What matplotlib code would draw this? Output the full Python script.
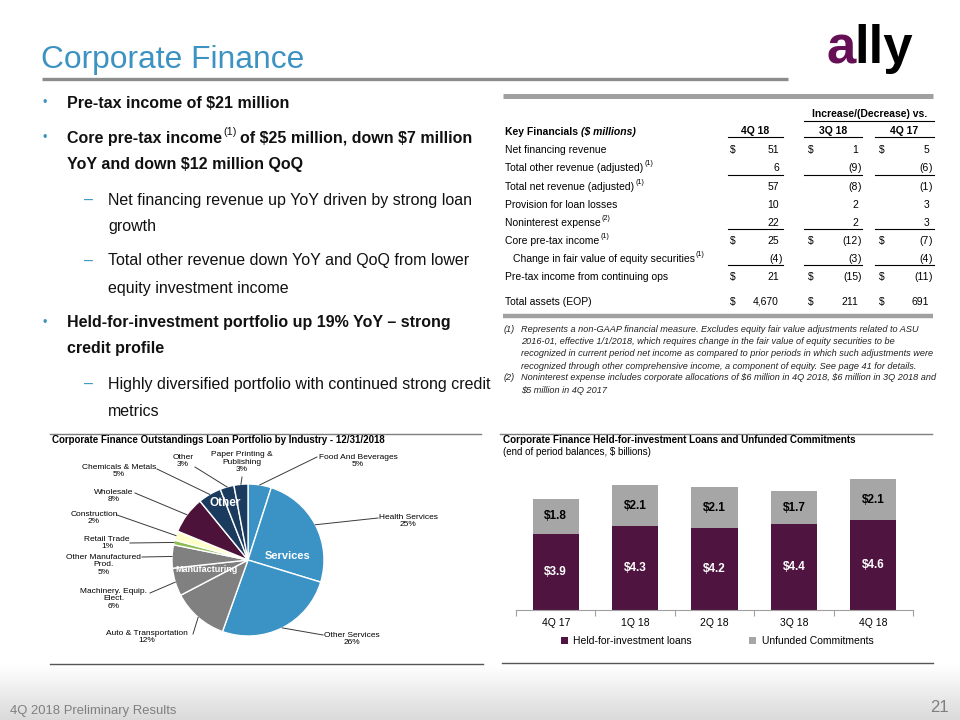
import numpy as np
import matplotlib
matplotlib.use("Agg")
import matplotlib.pyplot as plt

plt.rcParams['font.family'] = ['Liberation Sans', 'DejaVu Sans']
plt.rcParams['text.parse_math'] = False

# ---------------- data ----------------
title = "Corporate Finance"

bullets = [
    ("b", [("Pre-tax income of $21 million", "t")]),
    ("b", [("Core pre-tax income", "t"), ("(1)", "s"), ("of $25 million, down $7 million", "t")]),
    ("c", [("YoY and down $12 million QoQ", "t")]),
    ("d", [("Net financing revenue up YoY driven by strong loan", "t")]),
    ("e", [("growth", "t")]),
    ("d", [("Total other revenue down YoY and QoQ from lower", "t")]),
    ("e", [("equity investment income", "t")]),
    ("b", [("Held-for-investment portfolio up 19% YoY \u2013 strong", "t")]),
    ("c", [("credit profile", "t")]),
    ("d", [("Highly diversified portfolio with continued strong credit", "t")]),
    ("e", [("metrics", "t")]),
]

row_labels = ["Net financing revenue", "Total other revenue (adjusted)", "Total net revenue (adjusted)",
              "Provision for loan losses", "Noninterest expense", "Core pre-tax income",
              "Change in fair value of equity securities", "Pre-tax income from continuing ops",
              "Total assets (EOP)"]
row_sups = ["", "(1)", "(1)", "", "(2)", "(1)", "(1)", "", ""]
q4_18 = [51, 6, 57, 10, 22, 25, -4, 21, 4670]
vs_3q18 = [1, -9, -8, 2, 2, -12, -3, -15, 211]
vs_4q17 = [5, -6, -1, 3, 3, -7, -4, -11, 691]
dollar_rows = [0, 5, 7, 8]
col_headers = ["4Q 18", "3Q 18", "4Q 17"]

footnotes = [
    ("(1)", "Represents a non-GAAP financial measure. Excludes equity fair value adjustments related to ASU"),
    ("", "2016-01, effective 1/1/2018, which requires change in the fair value of equity securities to be"),
    ("", "recognized in current period net income as compared to prior periods in which such adjustments were"),
    ("", "recognized through other comprehensive income, a component of equity. See page 41 for details."),
    ("(2)", "Noninterest expense includes corporate allocations of $6 million in 4Q 2018, $6 million in 3Q 2018 and"),
    ("", "$5 million in 4Q 2017"),
]

pie_labels = ["Food And Beverages", "Health Services", "Other Services", "Auto & Transportation",
              "Machinery. Equip.\nElect.", "Other Manufactured\nProd.", "Retail Trade", "Construction",
              "Wholesale", "Chemicals & Metals", "Other", "Paper Printing &\nPublishing"]
pie_values = [5, 25, 26, 12, 6, 5, 1, 2, 8, 5, 3, 3]

quarters = ["4Q 17", "1Q 18", "2Q 18", "3Q 18", "4Q 18"]
hfi_loans = [3.9, 4.3, 4.2, 4.4, 4.6]
unfunded = [1.8, 2.1, 2.1, 1.7, 2.1]

# ---------------- styles ----------------
BLUE = "#3c92c2"
SVC = "#3b93c5"
MFG = "#808080"
GREEN = "#8dbd50"
CREAM = "#ffffcc"
PURP = "#4d1239"
NAVY = "#1a3a5e"
BARP = "#4f1540"
BARG = "#a6a6a6"
pie_colors = [SVC, SVC, SVC, MFG, MFG, MFG, GREEN, CREAM, PURP, NAVY, NAVY, NAVY]

W, H = 960, 720
fig = plt.figure(figsize=(9.6, 7.2), dpi=100)
fig.patch.set_facecolor("white")

def fx(px):
    return px / W

def fy(py):
    return 1 - py / H

# ---------------- pie ----------------
cx, cy, R = 248, 560, 76
ax_pie = fig.add_axes([fx(cx - R), fy(cy + R), 2 * R / W, 2 * R / H])
ax_pie.pie(pie_values, colors=pie_colors, startangle=90, counterclock=False,
           wedgeprops=dict(edgecolor="white", linewidth=1.0))
ax_pie.set_xlim(-1, 1)
ax_pie.set_ylim(-1, 1)
ax_pie.set_aspect("auto")
ax_pie.axis("off")

# ---------------- bars ----------------
ppu = 19.5
ax_bar = fig.add_axes([fx(516), fy(610), (913 - 516) / W, 150 / H])
x = np.arange(len(quarters))
b1 = ax_bar.bar(x, hfi_loans, width=0.58, color=BARP, label="Held-for-investment loans")
b2 = ax_bar.bar(x, unfunded, width=0.58, bottom=hfi_loans, color=BARG, label="Unfunded Commitments")
ax_bar.set_xlim(-0.5, len(quarters) - 0.5)
ax_bar.set_ylim(0, 150 / ppu)
for s in ["top", "right", "left"]:
    ax_bar.spines[s].set_visible(False)
ax_bar.spines["bottom"].set_color("#a0a0a0")
ax_bar.spines["bottom"].set_linewidth(0.8)
ax_bar.set_yticks([])
ax_bar.set_xticks(np.arange(-0.5, len(quarters)), minor=False)
ax_bar.set_xticklabels([])
ax_bar.tick_params(axis="x", which="major", length=4, color="#a0a0a0", width=0.8)
ax_bar.set_xticks(x, minor=True)
ax_bar.set_xticklabels(quarters, minor=True)
ax_bar.tick_params(axis="x", which="minor", length=0, labelsize=7.5, pad=6)
for i in range(len(quarters)):
    ax_bar.text(x[i], hfi_loans[i] / 2, f"${hfi_loans[i]:.1f}", ha="center", va="center",
                color="white", fontsize=8.5, fontweight="bold")
    ax_bar.text(x[i], hfi_loans[i] + unfunded[i] / 2, f"${unfunded[i]:.1f}", ha="center", va="center",
                color="black", fontsize=8.5, fontweight="bold")
fig.legend(handles=[b1, b2], loc="center", bbox_to_anchor=(fx(717), fy(641)), ncol=2, frameon=False,
           fontsize=7.5, handlelength=0.7, handleheight=0.7, handletextpad=0.5, columnspacing=5.5)

# ---------------- overlay ----------------
ax = fig.add_axes([0, 0, 1, 1])
ax.set_xlim(0, W)
ax.set_ylim(H, 0)
ax.axis("off")
ax.patch.set_alpha(0)

renderer = fig.canvas.get_renderer()
inv = ax.transData.inverted()

def chain(x0, y, segs, size, weight="normal", color="black", style="normal", va="center",
          supfac=0.68):
    """Draw text segments sequentially; kind 's' is superscript."""
    xc = x0
    for s, kind in segs:
        if kind == "s":
            t = ax.text(xc + 1, y - size * 0.55, s, fontsize=size * supfac, fontweight="normal",
                        color=color, va=va, ha="left")
        else:
            if xc != x0:
                xc += size * 0.3
            t = ax.text(xc, y, s, fontsize=size, fontweight=weight, color=color,
                        style=style, va=va, ha="left")
        bb = t.get_window_extent(renderer=renderer)
        xc = inv.transform((bb.x1, bb.y0))[0]
    return xc

# footer gradient
grad = np.linspace(0, 1, 60).reshape(-1, 1)
ax.imshow(grad, extent=[0, W, H, 665], cmap=matplotlib.colors.LinearSegmentedColormap.from_list(
    "g", ["#ffffff", "#dadada"]), aspect="auto", zorder=0)
ax.set_xlim(0, W)
ax.set_ylim(H, 0)
ax.text(10, 711, "4Q 2018 Preliminary Results", fontsize=9.4, color="#7f7f7f", va="center", ha="left")
ax.text(949, 708, "21", fontsize=12, color="#7f7f7f", va="center", ha="right")

# title & logo
ax.text(41, 68, title, fontsize=22.9, color=BLUE, va="baseline", ha="left")
ax.plot([42, 788], [79, 79], color="#8c8c8c", lw=2.4, solid_capstyle="butt")
ta = ax.text(826, 63, "a", fontsize=38, fontweight="bold", color="#650f55", va="baseline", ha="left")
bb = ta.get_window_extent(renderer=renderer)
ax.text(inv.transform((bb.x1, bb.y0))[0] - 1, 63, "lly", fontsize=38, fontweight="bold",
        color="black", va="baseline", ha="left")

# bullets
bullet_y = [103, 138, 165, 200, 227, 261, 288, 323, 349, 384, 411]
for (kind, segs), y in zip(bullets, bullet_y):
    if kind in ("b", "c"):
        if kind == "b":
            ax.text(45, y, "\u2022", fontsize=9, color=BLUE, va="center", ha="center")
        chain(67, y, segs, 11.5, weight="bold", color="#111111")
    else:
        if kind == "d":
            ax.text(88, y, "\u2013", fontsize=11.5, color=BLUE, va="center", ha="center")
        chain(108, y, segs, 11.5, color="#111111")

# table
ax.plot([503, 933], [96, 96], color="#a0a0a0", lw=3.6, solid_capstyle="butt")
ax.text(870, 114, "Increase/(Decrease) vs.", fontsize=7.5, fontweight="bold", ha="center", va="center")
ax.plot([804, 934], [121, 121], color="black", lw=0.8)
tk = ax.text(505, 132, "Key Financials", fontsize=7.5, fontweight="bold", va="center")
bbk = tk.get_window_extent(renderer=renderer)
ax.text(inv.transform((bbk.x1, 0))[0] + 3, 132, "($ millions)", fontsize=7.5, fontweight="bold",
        style="italic", va="center")
col_centers = [755, 833, 904]
col_spans = [(728, 783), (804, 862), (875, 934)]
col_right = [779, 858, 929]
col_dollar = [730, 808, 879]
for h, c, (a, b) in zip(col_headers, col_centers, col_spans):
    ax.text(c, 131, h, fontsize=7.5, fontweight="bold", ha="center", va="center")
    ax.plot([a, b], [137, 137], color="black", lw=0.8)

row_y = [150, 168, 187, 205, 223, 241, 259, 277, 302]
line_after = {1: 175, 4: 229, 6: 265}

def fmt(v):
    return f"{abs(v):,}"

for i, lab in enumerate(row_labels):
    y = row_y[i]
    xl = 513 if i == 6 else 505
    segs = [(lab, "t")] + ([(row_sups[i], "s")] if row_sups[i] else [])
    chain(xl, y, segs, 7.5)
    for j, vals in enumerate([q4_18, vs_3q18, vs_4q17]):
        v = vals[i]
        if i in dollar_rows:
            ax.text(col_dollar[j], y, "$", fontsize=7.5, ha="left", va="center")
        if v < 0:
            ax.text(col_right[j], y, "(" + fmt(v), fontsize=7.5, ha="right", va="center")
            ax.text(col_right[j], y, ")", fontsize=7.5, ha="left", va="center")
        else:
            ax.text(col_right[j], y, fmt(v), fontsize=7.5, ha="right", va="center")
    if i in line_after:
        for (a, b) in col_spans:
            ax.plot([a, b], [line_after[i], line_after[i]], color="black", lw=0.8)

# footnotes
ax.plot([503, 933], [316, 316], color="#a0a0a0", lw=3.2, solid_capstyle="butt")
fn_y = [329, 341.5, 354, 366.5, 378, 390.5]
for (num, txt), y in zip(footnotes, fn_y):
    if num:
        ax.text(504, y, num, fontsize=6.6, style="italic", va="center", ha="left", color="#222222")
    ax.text(521, y, txt, fontsize=6.6, style="italic", va="center", ha="left", color="#222222")

# section lines
ax.plot([50, 481], [434, 434], color="#7f7f7f", lw=1.0)
ax.plot([500, 932], [434, 434], color="#7f7f7f", lw=1.0)
ax.plot([50, 483], [664, 664], color="#555555", lw=1.0)
ax.plot([502, 933], [663, 663], color="#555555", lw=1.0)

ax.text(52, 440, "Corporate Finance Outstandings Loan Portfolio by Industry - 12/31/2018",
        fontsize=7.0, fontweight="bold", va="center", ha="left")
ax.text(503, 440, "Corporate Finance Held-for-investment Loans and Unfunded Commitments",
        fontsize=7.1, fontweight="bold", va="center", ha="left")
ax.text(503, 452, "(end of period balances, $ billions)", fontsize=7.0, va="center", ha="left")

# pie labels with leaders (text layout positions)
lab_pos = [(358, 461), (408, 521), (352, 639), (147, 637), (114, 599), (104, 565),
           (107, 543), (94, 518), (114, 496), (119, 471), (183, 461), (242, 462)]
lead_end = [(317, 457), (378, 518), (323, 635), (193, 634), (150, 593), (142, 557),
            (130, 543), (117, 515), (135, 493), (157, 469), (195, 467), (242, 477)]
total = float(sum(pie_values))
cum = 0.0
for k, v in enumerate(pie_values):
    mid = np.deg2rad(90 - 360 * (cum + v / 2) / total)
    cum += v
    sx = cx + R * np.cos(mid)
    sy = cy - R * np.sin(mid)
    ex, ey = lead_end[k]
    ax.plot([sx, ex], [sy, ey], color="#3a3a3a", lw=0.7)
    ax.text(lab_pos[k][0], lab_pos[k][1], f"{pie_labels[k]}\n{pie_values[k]}%", fontsize=6.0,
            ha="center", va="center", linespacing=1.02, color="black")

ax.text(288, 556, "Services", fontsize=8, fontweight="bold", color="white", ha="center", va="center")
ax.text(207, 569, "Manufacturing", fontsize=6.5, fontweight="bold", color="white", ha="center", va="center")
ax.text(225, 503, "Other", fontsize=8.5, fontweight="bold", color="white", ha="center", va="center")

fig.savefig("out.png", dpi=100)
